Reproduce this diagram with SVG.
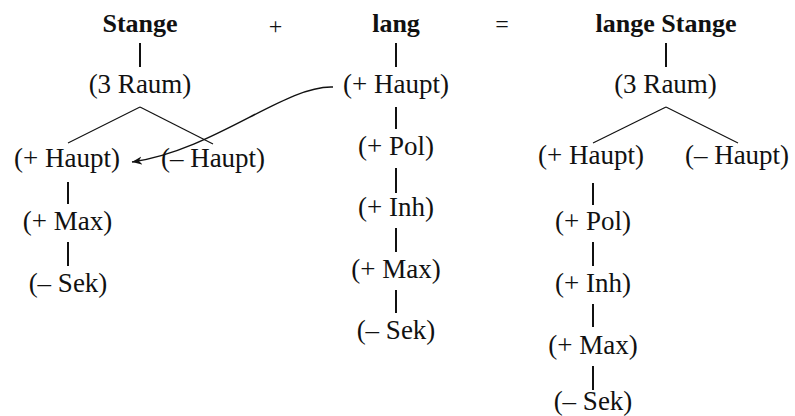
<svg xmlns="http://www.w3.org/2000/svg" width="795" height="416" viewBox="0 0 795 416">
<style>
text{font-family:'Liberation Serif','Times New Roman',serif;fill:#111;text-anchor:middle}
.h{font-weight:bold;font-size:26px}
.n{font-size:27px}
.op{font-size:24px}
.v{stroke:#111;stroke-width:2;fill:none}
.d{stroke:#111;stroke-width:1.2;fill:none}
.c{stroke:#111;stroke-width:1.4;fill:none}
</style>
<defs>
<marker id="arr" markerUnits="userSpaceOnUse" markerWidth="12" markerHeight="10" refX="10" refY="4" orient="auto">
<path d="M0,0 L10,4 L0,8 L3,4 z" fill="#111"/>
</marker>
</defs>
<g id="connectors">
<line class="v" x1="140" y1="43" x2="140" y2="67"/>
<line class="d" x1="140" y1="107" x2="68" y2="143"/>
<line class="d" x1="140" y1="107" x2="213" y2="144"/>
<line class="v" x1="68" y1="182" x2="68" y2="204"/>
<line class="v" x1="68" y1="242" x2="68" y2="266"/>
<line class="v" x1="396" y1="43" x2="396" y2="67"/>
<line class="v" x1="396" y1="107" x2="396" y2="129"/>
<line class="v" x1="396" y1="168" x2="396" y2="193"/>
<line class="v" x1="396" y1="228" x2="396" y2="252"/>
<line class="v" x1="396" y1="290" x2="396" y2="313"/>
<line class="v" x1="666" y1="43" x2="666" y2="67"/>
<line class="d" x1="666" y1="107" x2="593" y2="143"/>
<line class="d" x1="666" y1="107" x2="738" y2="143"/>
<line class="v" x1="593" y1="183" x2="593" y2="205"/>
<line class="v" x1="593" y1="242" x2="593" y2="266"/>
<line class="v" x1="593" y1="304" x2="593" y2="327"/>
<line class="v" x1="593" y1="366" x2="593" y2="390"/>
<path class="c" d="M333,87 C285,85 215,150 132,162" marker-end="url(#arr)"/>
</g>
<g id="ops">
<text class="op" x="275.5" y="34">+</text>
<text class="op" x="502" y="31.5">=</text>
</g>
<g id="stange">
<text class="h" x="140" y="32">Stange</text>
<text class="n" x="140" y="92.5">(3 Raum)</text>
<text class="n" x="67" y="167">(+ Haupt)</text>
<text class="n" x="213" y="167">(– Haupt)</text>
<text class="n" x="67.5" y="230">(+ Max)</text>
<text class="n" x="68" y="292">(– Sek)</text>
</g>
<g id="lang">
<text class="h" x="396" y="32">lang</text>
<text class="n" x="396" y="93">(+ Haupt)</text>
<text class="n" x="396" y="155">(+ Pol)</text>
<text class="n" x="396" y="216">(+ Inh)</text>
<text class="n" x="396" y="278">(+ Max)</text>
<text class="n" x="396" y="339">(– Sek)</text>
</g>
<g id="lange-stange">
<text class="h" x="666" y="32">lange Stange</text>
<text class="n" x="665.5" y="93">(3 Raum)</text>
<text class="n" x="591" y="164">(+ Haupt)</text>
<text class="n" x="737" y="164">(– Haupt)</text>
<text class="n" x="593" y="230">(+ Pol)</text>
<text class="n" x="593" y="291.5">(+ Inh)</text>
<text class="n" x="593" y="354">(+ Max)</text>
<text class="n" x="593" y="410">(– Sek)</text>
</g>
</svg>
